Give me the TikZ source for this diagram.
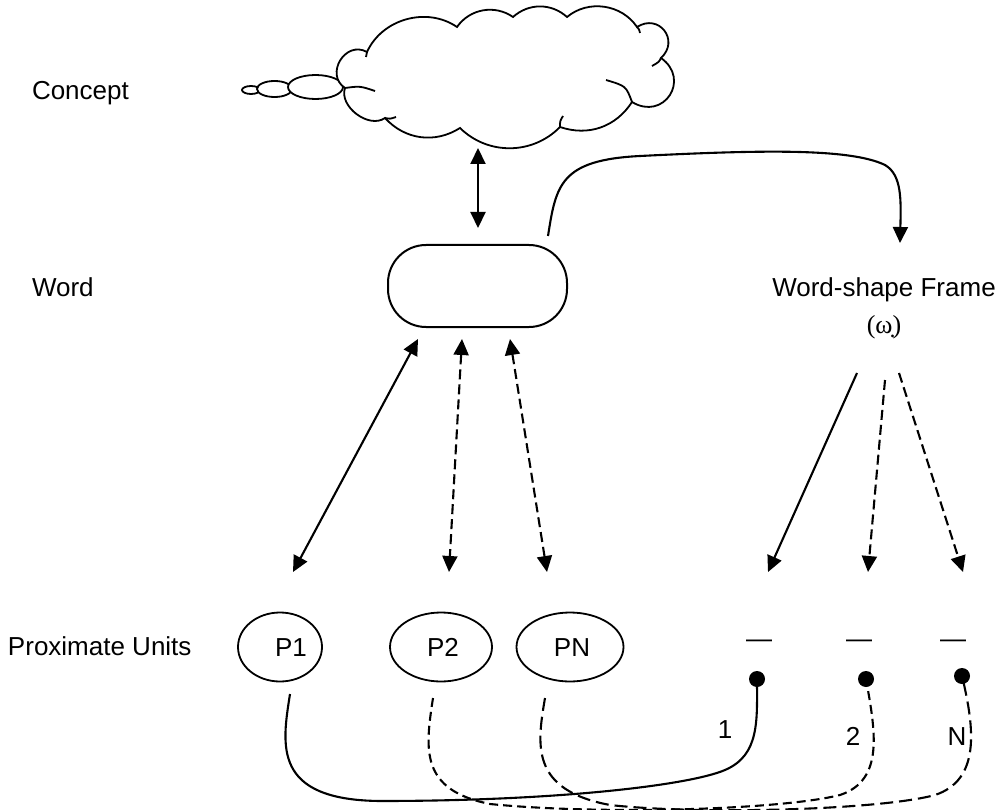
\documentclass[tikz,border=0pt]{standalone}
\usepackage{fontspec}
\setmainfont{Liberation Sans}
\newfontfamily\serifw{Liberation Serif}
\usetikzlibrary{arrows.meta,shapes.geometric}
\begin{document}
\begin{tikzpicture}[x=1pt,y=-1pt,
  every node/.style={font=\fontsize{26}{31}\selectfont, inner sep=0pt, outer sep=0pt},
  ln/.style={line width=2.1pt},
  thin ln/.style={line width=1.8pt},
  tipa/.style={-{Triangle[length=16pt,width=15pt]}},
  dtip/.style={{Triangle[length=16pt,width=15pt]}-{Triangle[length=16pt,width=15pt]}},
  dsh/.style={dash pattern=on 10pt off 5pt},
  dshs/.style={dash pattern=on 9pt off 5pt},
  dshl/.style={dash pattern=on 13pt off 6pt},
  pell/.style={draw, ellipse, line width=1.8pt, minimum height=69pt},
  wbox/.style={draw, line width=2pt, rounded corners=38pt, minimum width=179pt, minimum height=82pt},
  dotn/.style={circle, fill=black, minimum size=16pt},
  lbl/.style={anchor=base west},
  ctr/.style={anchor=base}
]
\useasboundingbox (0,0) rectangle (1003,810);

% thought bubbles
\draw[thin ln, fill=white] (251,90) ellipse [x radius=9, y radius=4];
\draw[thin ln, fill=white] (274.5,89) ellipse [x radius=17.5, y radius=8];
\draw[thin ln, fill=white] (315.5,87) ellipse [x radius=27.5, y radius=12];
% cloud
\draw[thin ln, fill=white] (367,52) to[bend left=50] (457,27) to[bend left=45] (513,17)
  to[bend left=42] (567,17) to[bend left=48] (637,27) to[bend left=85,looseness=1.7] (661,58)
  to[bend left=88,looseness=1.8] (632,102) to[bend left=38] (560,127) to[bend left=45] (460,128)
  to[bend left=40] (385,118) to[bend left=72] (345,88) to[bend left=88,looseness=1.5] (367,52) -- cycle;
% overlapping lobe stubs
\draw[thin ln] (345,88) .. controls (360,86) .. (375,91);
\draw[thin ln] (385,118) .. controls (390,119) .. (396,117);
\draw[thin ln] (632,102) .. controls (626,86) .. (606,80);
\draw[thin ln] (661,58) .. controls (659,62) .. (652,66);
\draw[thin ln] (560,127) .. controls (560,121) .. (563,116);
\draw[thin ln] (637,27) .. controls (639,29) .. (640,33);
\draw[thin ln] (367,52) .. controls (367,54) .. (366,57);

% left labels
\node[lbl] (concept) at (32,100) {Concept};
\node[lbl] (wordlbl) at (32,296) {Word};
\node[lbl] (prox) at (8,655) {Proximate Units};

% word box
\node[wbox] (word) at (477.5,286) {};

% word-shape frame
\node[ctr] (wsf) at (884,296) {Word-shape Frame};
\node[ctr] (omega) at (884,333) {\serifw (ω\char"0323)};

% proximate units
\node[pell, minimum width=84pt] (p1) at (280,647) {};
\node[pell, minimum width=102pt] (p2) at (441,647) {};
\node[pell, minimum width=107pt] (pn) at (570,647) {};
\node[ctr] (p1t) at (291,656) {P1};
\node[ctr] (p2t) at (443,656) {P2};
\node[ctr] (pnt) at (572,656) {PN};

% slots
\node[ctr] (s1) at (759,647) {—};
\node[ctr] (s2) at (859,647) {—};
\node[ctr] (s3) at (953,647) {—};

% dots
\node[dotn] (d1) at (757,679) {};
\node[dotn] (d2) at (866,679) {};
\node[dotn] (d3) at (962,676) {};

% numbers
\node[ctr] (n1) at (725,738) {1};
\node[ctr] (n2) at (853,745) {2};
\node[ctr] (nn) at (957,745) {N};

% coordinates
\coordinate (cb) at (478,148);
\coordinate (wt) at (478,228);
\coordinate (wb1) at (418,339);
\coordinate (wb2) at (462,339);
\coordinate (wb3) at (510,339);
\coordinate (pa1) at (293,572);
\coordinate (pa2) at (449,572);
\coordinate (pa3) at (547,572);
\coordinate (ws1) at (857,373);
\coordinate (ws2) at (885,380);
\coordinate (ws3) at (899,373);
\coordinate (sa1) at (768,572);
\coordinate (sa2) at (868,572);
\coordinate (sa3) at (963,572);
\coordinate (wc) at (548,236);
\coordinate (wsft) at (900,243);
\coordinate (p1b) at (290,694);
\coordinate (p2b) at (433,698);
\coordinate (pnb) at (545,698);

% arrows
\draw[ln,dtip] (cb) -- (wt);
\draw[ln,dtip] (wb1) -- (pa1);
\draw[ln,dtip,dsh] (wb2) -- (pa2);
\draw[ln,dtip,dsh] (wb3) -- (pa3);
\draw[ln,tipa] (ws1) -- (sa1);
\draw[ln,tipa,dsh] (ws2) -- (sa2);
\draw[ln,tipa,dsh] (ws3) -- (sa3);
\draw[ln,tipa] (wc) .. controls (556,185) and (560,160) .. (640,156)
  .. controls (760,150) and (850,148) .. (885,165)
  .. controls (902,175) and (901,200) .. (wsft);

% bottom curves
\draw[ln] (p1b) .. controls (282,745) and (272,800) .. (380,801)
  .. controls (560,801) and (690,785) .. (725,770)
  .. controls (760,755) and (757,720) .. (d1.center);
\draw[ln,dshs] (p2b) .. controls (425,750) and (420,790) .. (490,804)
  .. controls (600,815) and (780,810) .. (840,795)
  .. controls (885,780) and (875,730) .. (d2.center);
\draw[ln,dshl] (pnb) .. controls (537,745) and (530,790) .. (610,805)
  .. controls (700,815) and (880,810) .. (935,795)
  .. controls (980,780) and (975,730) .. (d3.center);
\end{tikzpicture}
\end{document}
